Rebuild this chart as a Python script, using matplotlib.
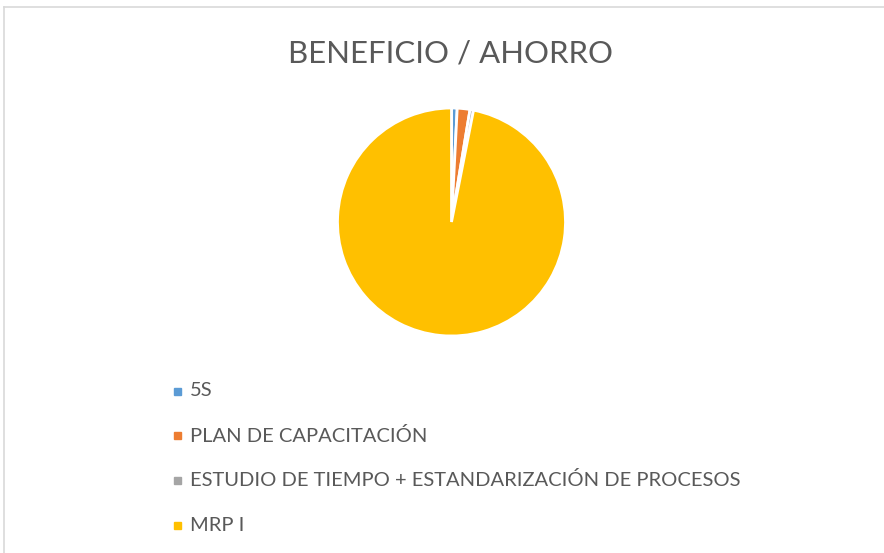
import matplotlib.pyplot as plt
from matplotlib.patches import Rectangle
from matplotlib.lines import Line2D

plt.rcParams["font.family"] = ["Lato", "DejaVu Sans"]

labels = ["5S", "PLAN DE CAPACITACIÓN",
          "ESTUDIO DE TIEMPO + ESTANDARIZACIÓN DE PROCESOS", "MRP I"]
values = [0.8, 1.8, 0.5, 96.9]
colors = ["#5B9BD5", "#ED7D31", "#A5A5A5", "#FFC000"]

W, H = 884, 553
fig = plt.figure(figsize=(W / 100, H / 100), dpi=100)

# chart frame (only top/left edges visible)
fig.add_artist(Line2D([4 / W, 1], [1 - 7 / H, 1 - 7 / H], color="#D9D9D9", lw=1.2))
fig.add_artist(Line2D([4 / W, 4 / W], [0, 1 - 7 / H], color="#D9D9D9", lw=1.2))

cx, cy, r = 451.5, 222, 114
ax = fig.add_axes([(cx - r) / W, 1 - (cy + r) / H, 2 * r / W, 2 * r / H])
ax.pie(values, colors=colors, startangle=90, counterclock=False,
       wedgeprops=dict(edgecolor="white", linewidth=2.0))
ax.set_aspect("equal")
ax.set_xlim(-1, 1)
ax.set_ylim(-1, 1)

fig.text(451 / W, 1 - 54 / H, "BENEFICIO / AHORRO", ha="center", va="center",
         fontsize=22.4, color="#595959")

for i, (lab, col) in enumerate(zip(labels, colors)):
    y = 391 + i * 44.7
    fig.add_artist(Rectangle((174 / W, 1 - (y + 3.5) / H), 7 / W, 7 / H,
                             color=col, transform=fig.transFigure))
    fig.text(190 / W, 1 - y / H, lab, ha="left", va="center",
             fontsize=14.5, color="#595959")

fig.savefig("out.png", dpi=100)
